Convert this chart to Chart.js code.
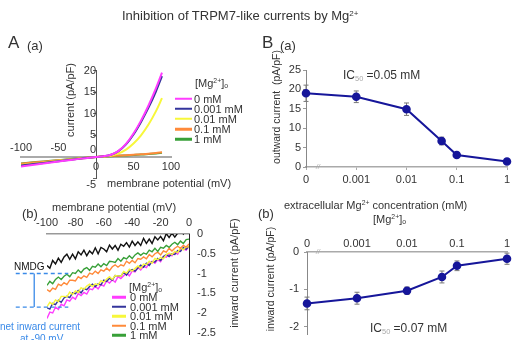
<!DOCTYPE html>
<html><head><meta charset="utf-8">
<script src="https://cdn.jsdelivr.net/npm/chart.js@4.4.1/dist/chart.umd.min.js"></script>
<style>
html,body{margin:0;padding:0;background:#fff;overflow:hidden;}
#wrap{position:relative;width:513px;height:340px;overflow:hidden;font-family:"Liberation Sans",Arial,sans-serif;color:#333;}
canvas{position:absolute;left:0;top:0;}
.t{position:absolute;white-space:nowrap;line-height:1;transform:translateY(-50%);}
.r{position:absolute;white-space:nowrap;line-height:1;transform:translate(-50%,-50%) rotate(-90deg);}
.t sup,.r sup{font-size:0.62em;vertical-align:0.45em;line-height:0;}
.t sub,.r sub{font-size:0.62em;vertical-align:-0.25em;line-height:0;}
.sw{position:absolute;height:2.5px;transform:translateY(-50%);}
.g{color:#aaa;}
.bl{color:#3a8ae8;}
</style></head>
<body>
<div id="wrap">
<canvas id="cAa" width="513" height="340"></canvas>
<canvas id="cAb" width="513" height="340"></canvas>
<canvas id="cBa" width="513" height="340"></canvas>
<canvas id="cBb" width="513" height="340"></canvas>

<div class="t" style="left:122px;top:15px;font-size:13px;">Inhibition of TRPM7-like currents by Mg<sup>2+</sup></div>

<div class="t" style="left:8px;top:42px;font-size:17px;">A</div>
<div class="t" style="left:27px;top:45px;font-size:13px;">(a)</div>
<div class="r" style="left:70px;top:100px;font-size:11px;">current (pA/pF)</div>
<div class="t" style="left:107px;top:183px;font-size:11px;">membrane potential (mV)</div>
<div class="t" style="left:195px;top:83px;font-size:11px;">[Mg<sup>2+</sup>]<sub>o</sub></div>
<div id="legAa"></div>

<div class="t" style="left:22px;top:213px;font-size:13px;">(b)</div>
<div class="t" style="left:52px;top:207px;font-size:11px;">membrane potential (mV)</div>
<div class="r" style="left:234px;top:273px;font-size:11px;">inward current (pA/pF)</div>
<div class="t" style="left:14px;top:267px;font-size:10px;color:#111;">NMDG</div>
<div class="t bl" style="left:0px;top:327px;font-size:10px;">net inward current</div>
<div class="t bl" style="left:20px;top:339px;font-size:10px;">at -90 mV</div>
<div class="t" style="left:129px;top:287px;font-size:11px;">[Mg<sup>2+</sup>]<sub>o</sub></div>
<div id="legAb"></div>

<div class="t" style="left:262px;top:42px;font-size:17px;">B</div>
<div class="t" style="left:280px;top:45px;font-size:13px;">(a)</div>
<div class="r" style="left:276px;top:107px;font-size:10.5px;">outward current&nbsp; (pA/pF)</div>
<div class="t" style="left:343px;top:75px;font-size:12px;">IC<sub class="g">50</sub> =0.05 mM</div>
<div class="t g" style="left:316px;top:166px;font-size:7px;font-style:italic;">//</div>

<div class="t" style="left:258px;top:213px;font-size:13px;">(b)</div>
<div class="t" style="left:284px;top:205px;font-size:11px;">extracellular Mg<sup>2+</sup> concentration (mM)</div>
<div class="t" style="left:373px;top:219px;font-size:11px;">[Mg<sup>2+</sup>]<sub>o</sub></div>
<div class="r" style="left:270px;top:279px;font-size:10.5px;">inward current (pA/pF)</div>
<div class="t" style="left:370px;top:328px;font-size:12px;">IC<sub class="g">50</sub> =0.07 mM</div>
<div class="t g" style="left:316px;top:251px;font-size:7px;font-style:italic;">//</div>
</div>

<script>
// ---------- A(a): I-V curves ----------
const ivVoltage = [-100,-80,-60,-40,-20,0,10,20,30,40,50,60,70,80,88];
const iv0mM     = [-2.2,-1.75,-1.3,-0.85,-0.4,0,0.15,0.5,1.4,3.0,5.4,8.4,11.9,15.9,19.5];
const iv0001mM  = [-2.0,-1.6,-1.2,-0.8,-0.4,0,0.15,0.5,1.35,2.9,5.2,8.1,11.4,15.2,18.7];
const iv001mM   = [-1.9,-1.5,-1.1,-0.7,-0.35,0,0.1,0.3,0.8,1.7,3.1,5.0,7.5,10.6,13.6];
const iv01mM    = [-1.6,-1.25,-0.95,-0.65,-0.3,0,0.1,0.2,0.3,0.4,0.5,0.6,0.75,0.9,1.1];
const iv1mM     = [-1.5,-1.2,-0.9,-0.6,-0.3,0,0.08,0.16,0.25,0.35,0.45,0.55,0.65,0.8,0.95];
const AaXTicks = [-100,-50,0,50,100];
const AaYTicks = [-5,0,5,10,15,20];

// ---------- A(b): inward currents ----------
const inVoltage = [-100,-98,-96,-94,-92,-90,-88,-86,-84,-82,-80,-78,-76,-74,-72,-70,-68,-66,-64,-62,-60,-58,-56,-54,-52,-50,-48,-46,-44,-42,-40,-38,-36,-34,-32,-30,-28,-26,-24,-22,-20,-18,-16,-14,-12,-10,-8,-6,-4,-2,0];
const inNMDG = [-0.80,-0.87,-0.67,-0.76,-0.61,-0.72,-0.58,-0.51,-0.64,-0.51,-0.63,-0.45,-0.53,-0.41,-0.55,-0.43,-0.50,-0.35,-0.50,-0.34,-0.38,-0.45,-0.28,-0.38,-0.29,-0.41,-0.26,-0.31,-0.22,-0.33,-0.18,-0.29,-0.20,-0.29,-0.11,-0.24,-0.13,-0.24,-0.07,-0.15,-0.06,-0.17,0.01,-0.09,0.02,-0.08,0.02,0.11,0.00,0.13,0.11];
const in1mM = [-1.30,-1.20,-1.26,-1.15,-1.09,-1.15,-1.07,-1.02,-1.08,-0.98,-1.00,-0.91,-0.98,-0.89,-0.85,-0.92,-0.82,-0.84,-0.76,-0.83,-0.75,-0.80,-0.69,-0.70,-0.72,-0.62,-0.69,-0.60,-0.63,-0.55,-0.62,-0.53,-0.48,-0.54,-0.48,-0.51,-0.41,-0.45,-0.36,-0.44,-0.34,-0.36,-0.29,-0.34,-0.26,-0.21,-0.27,-0.18,-0.24,-0.14,-0.13];
const in01mM = [-1.41,-1.46,-1.37,-1.40,-1.27,-1.31,-1.23,-1.28,-1.17,-1.17,-1.19,-1.08,-1.13,-1.06,-1.10,-0.99,-1.02,-0.94,-1.00,-0.91,-0.94,-0.86,-0.93,-0.83,-0.78,-0.84,-0.78,-0.81,-0.69,-0.74,-0.67,-0.73,-0.62,-0.64,-0.58,-0.63,-0.52,-0.58,-0.50,-0.46,-0.53,-0.43,-0.46,-0.36,-0.43,-0.36,-0.31,-0.36,-0.29,-0.33,-0.25];
const in001mM = [-1.84,-1.73,-1.78,-1.67,-1.71,-1.58,-1.58,-1.59,-1.47,-1.53,-1.44,-1.48,-1.36,-1.40,-1.32,-1.27,-1.33,-1.26,-1.29,-1.18,-1.22,-1.14,-1.08,-1.15,-1.05,-1.06,-1.07,-0.95,-0.99,-0.89,-0.94,-0.87,-0.81,-0.87,-0.76,-0.78,-0.69,-0.74,-0.62,-0.65,-0.59,-0.63,-0.52,-0.48,-0.52,-0.44,-0.47,-0.35,-0.40,-0.32,-0.33];
const in0001mM = [-1.87,-1.90,-1.76,-1.79,-1.68,-1.73,-1.62,-1.58,-1.61,-1.49,-1.51,-1.43,-1.49,-1.38,-1.41,-1.33,-1.27,-1.33,-1.26,-1.29,-1.17,-1.20,-1.12,-1.17,-1.05,-1.06,-1.07,-0.97,-1.04,-0.94,-0.90,-0.94,-0.86,-0.79,-0.84,-0.74,-0.80,-0.70,-0.71,-0.62,-0.67,-0.57,-0.52,-0.57,-0.50,-0.52,-0.42,-0.44,-0.34,-0.39,-0.31];
const in0mM = [-2.14,-1.98,-2.00,-1.85,-1.91,-1.78,-1.82,-1.67,-1.70,-1.60,-1.65,-1.51,-1.56,-1.48,-1.52,-1.39,-1.41,-1.32,-1.39,-1.28,-1.32,-1.19,-1.24,-1.16,-1.22,-1.08,-1.13,-1.06,-0.99,-1.06,-0.94,-0.96,-0.85,-0.91,-0.82,-0.85,-0.74,-0.69,-0.74,-0.65,-0.70,-0.57,-0.59,-0.50,-0.55,-0.46,-0.51,-0.39,-0.38,-0.41,-0.31];
const AbXTicks = [-100,-80,-60,-40,-20,0];
const AbYTicks = [0,-0.5,-1,-1.5,-2,-2.5];
// "net inward current at -90 mV" annotation (mV, pA/pF)
const netLevelNMDG = -1.0;
const netLevel0mM = -1.85;
const netGuideX = [-122, -85];
const netArrowX = -109;

// ---------- B: dose response ----------
const mgConc = [0, 0.001, 0.01, 0.05, 0.1, 1];
const outwardMean = [19.0, 18.1, 14.9, 6.7, 3.1, 1.4];
const outwardErr  = [2.1, 1.5, 1.6, 1.0, 0.6, 0.4];
const inwardMean  = [-1.38, -1.24, -1.04, -0.67, -0.37, -0.18];
const inwardErr   = [0.17, 0.16, 0.10, 0.16, 0.13, 0.15];
const concTickPos = [0.0001, 0.001, 0.01, 0.1, 1];
const concTickLabels = ['0', '0.001', '0.01', '0.1', '1'];
const ZERO_POS = 0.0001; // position of "0" left of the axis break
const outTicks = [0,5,10,15,20,25];
const inTicks = [0,-1,-2];

const seriesNames = ['0 mM','0.001 mM','0.01 mM','0.1 mM','1 mM'];
const seriesColors = ['#ff3cff','#34349c','#f7f73a','#ff8a3a','#38a038'];

Chart.defaults.font.family = "'Liberation Sans', Arial, sans-serif";
Chart.defaults.color = '#333';

const setTicks = vals => s => { s.ticks = vals.map(v => ({value: v})); };
const noPad = s => { s.paddingTop = 0; s.paddingBottom = 0; s.paddingLeft = 0; s.paddingRight = 0; };
const fitW = w => s => { s.width = w; noPad(s); };
const fitH = h => s => { s.height = h; noPad(s); };
const baseOpts = (pad) => ({
  responsive: false, animation: false, events: [],
  layout: {padding: pad},
  plugins: {legend: {display: false}, tooltip: {enabled: false}, title: {display: false}}
});

// legends (HTML)
function legend(id, left, swW, textLeft, ys) {
  const el = document.getElementById(id);
  let h = '';
  seriesNames.forEach((n, i) => {
    h += `<div class="sw" style="left:${left}px;width:${swW}px;top:${ys[i]}px;background:${seriesColors[i]}"></div>`;
    h += `<div class="t" style="left:${textLeft}px;top:${ys[i]}px;font-size:11px;">${n}</div>`;
  });
  el.innerHTML = h;
}
legend('legAa', 175, 17, 194, [98.5,108.7,118.9,129.1,139.3]);
legend('legAb', 112, 14, 130, [297,306.5,316,325.5,335]);

// ---------- chart A(a) ----------
const ivSeries = [iv0mM, iv0001mM, iv001mM, iv01mM, iv1mM];
const optAa = baseOpts({left:21, right:342, top:70.5, bottom:161.5});
optAa.scales = {
  x: {type:'linear', position:{y:0}, min:-100, max:100, afterBuildTicks: setTicks(AaXTicks),
      grid:{display:false, drawTicks:false}, border:{color:'#aaa', width:2},
      ticks:{padding:-18, maxRotation:0, autoSkip:false, font:{size:11, lineHeight:'19px'},
             callback: v => v < 0 ? [String(v), ''] : ['', String(v)]}},
  y: {type:'linear', position:{x:0}, min:-5, max:20, afterBuildTicks: setTicks(AaYTicks),
      grid:{display:true, drawOnChartArea:false, tickLength:3, color:'#666'}, border:{color:'#555', width:1},
      ticks:{padding:2, autoSkip:false, font:{size:11},
             callback: v => v === 0 ? ['0',''] : (v === -5 ? ['','-5'] : String(v))}}
};
new Chart(document.getElementById('cAa'), {
  type:'line',
  data:{datasets: ivSeries.map((arr, k) => ({
    data: ivVoltage.map((x, i) => ({x, y: arr[i]})),
    borderColor: seriesColors[k], borderWidth: 2, pointRadius: 0,
    cubicInterpolationMode:'monotone', fill:false }))},
  options: optAa
});

// ---------- chart A(b) ----------
const inSeries = [
  {d: inNMDG, c:'#111111'}, {d: in1mM, c: seriesColors[4]}, {d: in01mM, c: seriesColors[3]},
  {d: in001mM, c: seriesColors[2]}, {d: in0001mM, c: seriesColors[1]}, {d: in0mM, c: seriesColors[0]}
];
const blue = '#3a8ae8';
const annot = [
  {data: netGuideX.map(x => ({x, y: netLevelNMDG})), borderColor: blue, borderWidth: 1.3, borderDash:[4,3], pointRadius:0, clip:false},
  {data: netGuideX.map(x => ({x, y: netLevel0mM})), borderColor: blue, borderWidth: 1.3, borderDash:[4,3], pointRadius:0, clip:false},
  {data: [{x: netArrowX, y: netLevelNMDG}, {x: netArrowX, y: netLevel0mM}], borderColor: blue, borderWidth: 1.3,
   pointStyle:'triangle', pointRadius: 3, pointRotation:[0,180], pointBackgroundColor: blue, pointBorderColor: blue, clip:false}
];
const optAb = baseOpts({left:47, right:294, top:214, bottom:0});
optAb.scales = {
  x: {type:'linear', position:'top', min:-100, max:0, afterFit: fitH(20), afterBuildTicks: setTicks(AbXTicks),
      grid:{display:false, drawTicks:false}, border:{color:'#999', width:1.5},
      ticks:{padding:4, maxRotation:0, autoSkip:false, font:{size:11}, callback: v => String(v)}},
  y: {type:'linear', position:'right', min:-2.55, max:0, afterFit: fitW(30), afterBuildTicks: setTicks(AbYTicks),
      grid:{display:false, drawTicks:false}, border:{color:'#222', width:1},
      ticks:{padding:8, autoSkip:false, font:{size:11}, callback: v => String(v)}}
};
new Chart(document.getElementById('cAb'), {
  type:'line',
  data:{datasets: annot.concat(inSeries.map(s => ({
    data: inVoltage.map((x, i) => ({x, y: s.d[i]})),
    borderColor: s.c, borderWidth: 1.4, pointRadius: 0, tension: 0, fill:false })))},
  options: optAb
});

// ---------- error bars plugin ----------
const errorBars = {
  id: 'errbars',
  beforeDatasetsDraw(chart, args, opts) {
    const meta = chart.getDatasetMeta(0);
    const ys = chart.scales.y;
    const ds = chart.data.datasets[0].data;
    const ctx = chart.ctx;
    ctx.save();
    ctx.strokeStyle = opts.color || '#777';
    ctx.lineWidth = 1;
    meta.data.forEach((pt, i) => {
      const v = ds[i].y, e = opts.err[i];
      const y1 = ys.getPixelForValue(v + e), y2 = ys.getPixelForValue(v - e);
      ctx.beginPath();
      ctx.moveTo(pt.x, y1); ctx.lineTo(pt.x, y2);
      ctx.moveTo(pt.x - 2.5, y1); ctx.lineTo(pt.x + 2.5, y1);
      ctx.moveTo(pt.x - 2.5, y2); ctx.lineTo(pt.x + 2.5, y2);
      ctx.stroke();
    });
    ctx.restore();
  }
};
const navy = '#16169a';
function doseDataset(means) {
  return {
    data: mgConc.map((c, i) => ({x: c === 0 ? ZERO_POS : c, y: means[i]})),
    borderColor: navy, borderWidth: 2, pointRadius: 3.3, pointBackgroundColor: navy,
    pointBorderColor: navy, tension: 0, fill:false, clip:false
  };
}

// ---------- chart B(a) ----------
const optBa = baseOpts({left:274, right:6, top:70, bottom:151});
optBa.plugins.errbars = {err: outwardErr, color:'#777'};
optBa.scales = {
  x: {type:'logarithmic', position:'bottom', min:0.0001, max:1, afterFit: fitH(22), afterBuildTicks: setTicks(concTickPos),
      grid:{display:true, drawOnChartArea:false, tickLength:3, color:'#aaa'}, border:{color:'#aaa', width:1.5},
      ticks:{padding:3.5, maxRotation:0, autoSkip:false, font:{size:11}, callback:(v, i) => concTickLabels[i]}},
  y: {type:'linear', position:'left', min:0, max:25, afterFit: fitW(32), afterBuildTicks: setTicks(outTicks),
      grid:{display:true, drawOnChartArea:false, tickLength:3, color:'#999'}, border:{color:'#888', width:1},
      ticks:{padding:2, autoSkip:false, font:{size:11}, callback: v => String(v)}}
};
new Chart(document.getElementById('cBa'), {
  type:'line', data:{datasets:[doseDataset(outwardMean)]}, options: optBa, plugins:[errorBars]
});

// ---------- chart B(b) ----------
const optBb = baseOpts({left:275, right:6, top:234, bottom:0});
optBb.plugins.errbars = {err: inwardErr, color:'#777'};
optBb.scales = {
  x: {type:'logarithmic', position:'top', min:0.0001, max:1, afterFit: fitH(18), afterBuildTicks: setTicks(concTickPos),
      grid:{display:false, drawTicks:false}, border:{color:'#aaa', width:1.5},
      ticks:{padding:1.5, maxRotation:0, autoSkip:false, font:{size:11}, callback:(v, i) => concTickLabels[i]}},
  y: {type:'linear', position:'left', min:-2.2, max:0, afterFit: fitW(32), afterBuildTicks: setTicks(inTicks),
      grid:{display:true, drawOnChartArea:false, tickLength:3, color:'#999'}, border:{color:'#888', width:1},
      ticks:{padding:5, autoSkip:false, font:{size:11}, callback: v => String(v)}}
};
new Chart(document.getElementById('cBb'), {
  type:'line', data:{datasets:[doseDataset(inwardMean)]}, options: optBb, plugins:[errorBars]
});
</script>
</body></html>
